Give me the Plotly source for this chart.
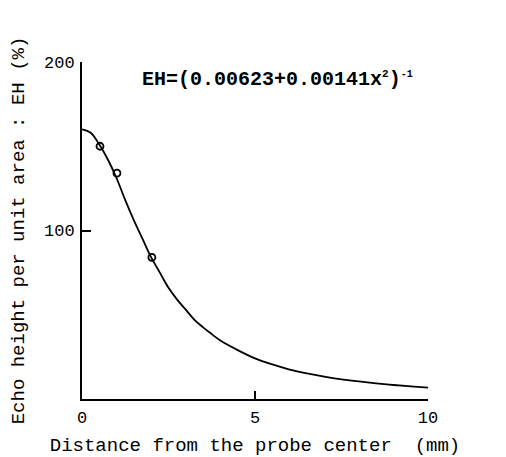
import plotly.graph_objects as go

# curve (echo height vs distance)
curve_x = [0, 0.25, 0.5, 0.75, 1, 1.25, 1.5, 1.75, 2, 2.25, 2.5, 2.75, 3, 3.25, 3.5,
           3.75, 4, 4.5, 5, 5.5, 6, 6.5, 7, 7.5, 8, 8.5, 9, 9.5, 10]
curve_y = [160, 158, 151, 142, 131, 118, 106, 95, 84, 75, 66, 59, 53, 47, 42.5,
           38.5, 34.7, 29, 24.1, 20.5, 17.5, 15.2, 13.3, 11.7, 10.4, 9.3, 8.3, 7.5, 6.8]

# measured points
meas_x = [0.52, 1.01, 2.02]
meas_y = [150, 134, 84]

x_ticks = [0, 5, 10]
y_ticks = [100, 200]

FONT = "Liberation Mono, Courier New, monospace"

fig = go.Figure()
fig.add_trace(go.Scatter(x=curve_x, y=curve_y, mode="lines",
                         line=dict(color="black", width=1.8, shape="spline", smoothing=1),
                         showlegend=False, hoverinfo="skip"))
fig.add_trace(go.Scatter(x=meas_x, y=meas_y, mode="markers",
                         marker=dict(symbol="circle-open", size=7, color="black",
                                     line=dict(width=1.8, color="black")),
                         showlegend=False))

fig.update_layout(
    width=506, height=457,
    margin=dict(l=82, r=78, t=62, b=58),
    paper_bgcolor="white", plot_bgcolor="white",
    font=dict(family=FONT, color="black", size=17),
    xaxis=dict(range=[0, 10], tickvals=x_ticks, ticktext=[str(v) for v in x_ticks],
               ticks="inside", ticklen=8, tickwidth=1.5, tickcolor="black",
               showline=True, linecolor="black", linewidth=2, showgrid=False,
               zeroline=False, tickfont=dict(size=17), ticklabelstandoff=2,
               automargin=False,
               title=dict(text="Distance from the probe center  (mm)",
                          font=dict(size=19), standoff=18)),
    yaxis=dict(range=[0, 200], tickvals=y_ticks, ticktext=[str(v) for v in y_ticks],
               ticks="inside", ticklen=9, tickwidth=1.5, tickcolor="black",
               showline=True, linecolor="black", linewidth=2, showgrid=False,
               zeroline=False, tickfont=dict(size=17), ticklabelstandoff=2,
               automargin=False,
               title=dict(text="Echo height per unit area : EH (%)",
                          font=dict(size=19), standoff=14)),
)

fig.add_annotation(
    xref="paper", yref="paper", x=(140 - 82) / 346, y=(399 - 80) / 337,
    xanchor="left", yanchor="middle", showarrow=False,
    text="<b>EH=(0.00623+0.00141x<sup><span style='font-size:11px'>2</span></sup>)"
         "<sup><span style='font-size:10px'>-1</span></sup></b>",
    font=dict(family=FONT, size=20, color="black"))

fig.write_html("out.html")
